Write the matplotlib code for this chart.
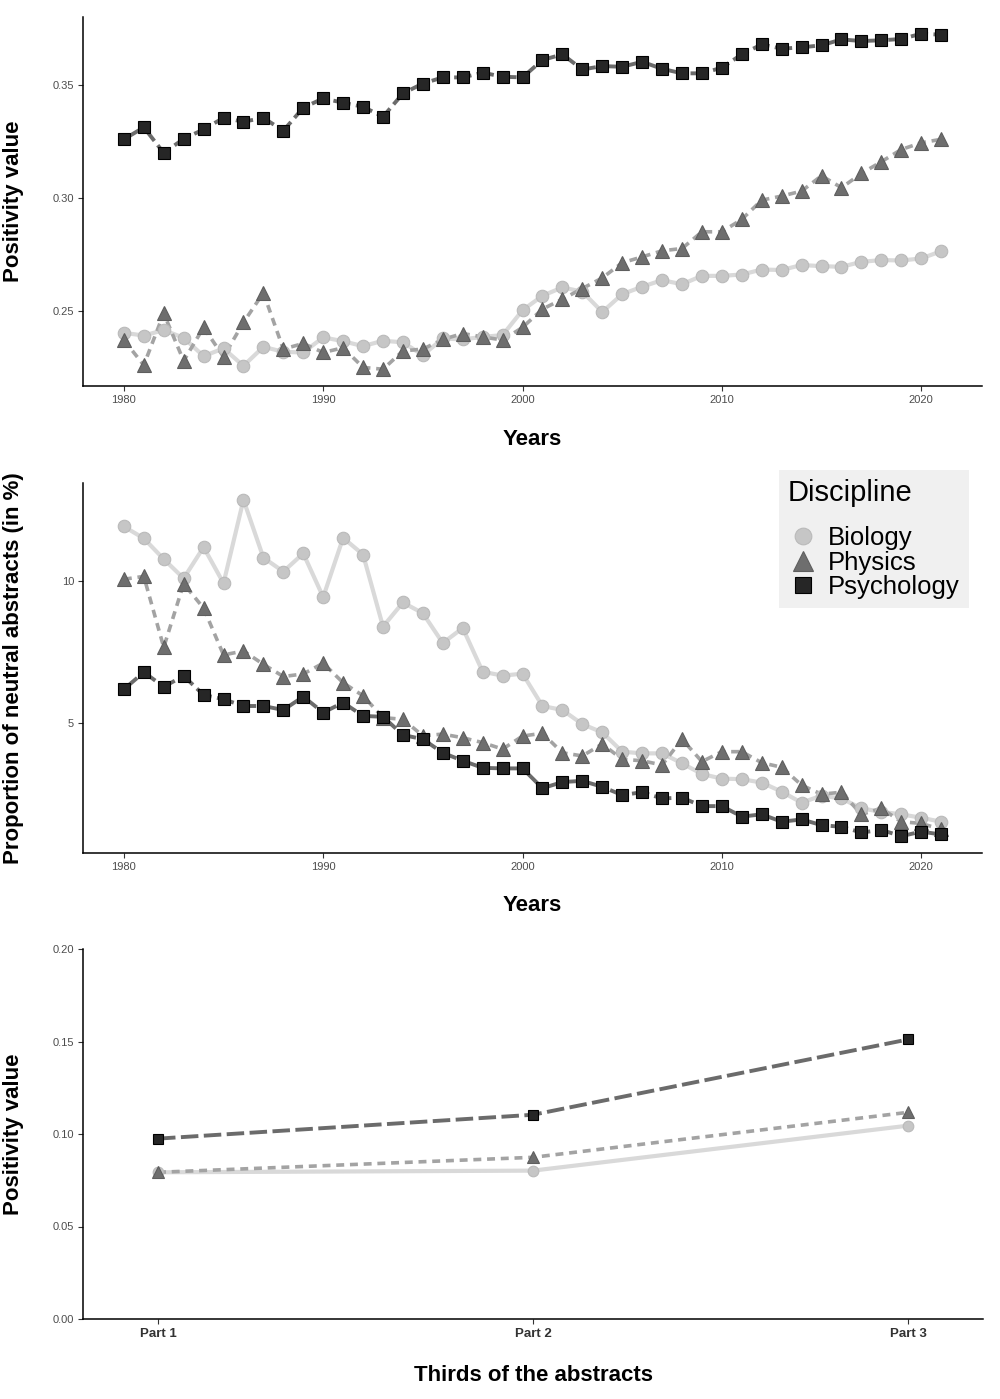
import matplotlib
matplotlib.use("Agg")
import matplotlib.pyplot as plt
from matplotlib.lines import Line2D

plt.rcParams['font.family'] = ['Liberation Sans', 'DejaVu Sans']

# ---- data ----
years = list(range(1980, 2022))

pos_biology = [0.2404, 0.2392, 0.2416, 0.2382, 0.2301, 0.2335, 0.2258, 0.2342, 0.2320, 0.2317,
               0.2384, 0.2367, 0.2345, 0.2369, 0.2362, 0.2305, 0.2379, 0.2375, 0.2386, 0.2394,
               0.2504, 0.2568, 0.2605, 0.2586, 0.2496, 0.2575, 0.2608, 0.2637, 0.2619, 0.2656,
               0.2656, 0.2662, 0.2684, 0.2682, 0.2704, 0.2699, 0.2696, 0.2718, 0.2726, 0.2724,
               0.2733, 0.2765]
pos_physics = [0.2372, 0.2261, 0.2490, 0.2280, 0.2428, 0.2298, 0.2450, 0.2581, 0.2332, 0.2357,
               0.2317, 0.2338, 0.2251, 0.2243, 0.2324, 0.2332, 0.2375, 0.2401, 0.2386, 0.2372,
               0.2428, 0.2509, 0.2553, 0.2600, 0.2647, 0.2714, 0.2740, 0.2767, 0.2777, 0.2851,
               0.2851, 0.2906, 0.2991, 0.3009, 0.3031, 0.3099, 0.3046, 0.3109, 0.3161, 0.3215,
               0.3245, 0.3260]
pos_psychology = [0.3260, 0.3313, 0.3200, 0.3262, 0.3304, 0.3355, 0.3338, 0.3355, 0.3298, 0.3400,
                  0.3441, 0.3422, 0.3404, 0.3360, 0.3463, 0.3507, 0.3534, 0.3534, 0.3555, 0.3537,
                  0.3534, 0.3611, 0.3636, 0.3569, 0.3584, 0.3581, 0.3603, 0.3572, 0.3552, 0.3552,
                  0.3577, 0.3636, 0.3680, 0.3661, 0.3667, 0.3676, 0.3702, 0.3695, 0.3698, 0.3704,
                  0.3727, 0.3723]

neutral_biology = [11.94, 11.52, 10.79, 10.11, 11.21, 9.94, 12.88, 10.84, 10.35, 10.99,
                   9.45, 11.54, 10.95, 8.41, 9.26, 8.88, 7.83, 8.36, 6.82, 6.68,
                   6.75, 5.61, 5.47, 4.97, 4.68, 4.00, 3.94, 3.94, 3.59, 3.21,
                   3.05, 3.03, 2.91, 2.59, 2.20, 2.45, 2.35, 2.00, 1.88, 1.79,
                   1.67, 1.53]
neutral_physics = [10.08, 10.18, 7.68, 9.92, 9.06, 7.41, 7.55, 7.08, 6.65, 6.74,
                   7.12, 6.43, 5.97, 5.20, 5.14, 4.56, 4.62, 4.49, 4.32, 4.09,
                   4.55, 4.65, 3.96, 3.85, 4.27, 3.73, 3.68, 3.53, 4.44, 3.65,
                   4.00, 4.00, 3.61, 3.45, 2.82, 2.50, 2.57, 1.79, 2.00, 1.53,
                   1.47, 1.26]
neutral_psychology = [6.20, 6.80, 6.29, 6.67, 6.00, 5.85, 5.61, 5.61, 5.47, 5.94,
                      5.38, 5.73, 5.26, 5.23, 4.59, 4.44, 3.96, 3.68, 3.43, 3.41,
                      3.41, 2.71, 2.93, 2.97, 2.76, 2.47, 2.57, 2.35, 2.38, 2.08,
                      2.08, 1.71, 1.79, 1.53, 1.61, 1.41, 1.35, 1.15, 1.24, 1.02,
                      1.18, 1.08]

parts = ["Part 1", "Part 2", "Part 3"]
thirds_biology = [0.0793, 0.0802, 0.1045]
thirds_physics = [0.0793, 0.0874, 0.1117]
thirds_psychology = [0.0975, 0.1104, 0.1511]

disciplines = ["Biology", "Physics", "Psychology"]

# ---- styles (ggplot-like greyscale) ----
line_style = {
    "Biology": dict(color="#d9d9d9", lw=3.0, ls="-"),
    "Physics": dict(color="#a3a3a3", lw=2.6, dashes=(2.2, 1.6)),
    "Psychology": dict(color="#6b6b6b", lw=2.8, dashes=(4.5, 1.4)),
}
marker_style = {
    "Biology": dict(marker="o", ms=9, mfc="#c6c6c6", mec="#bababa", mew=0.8),
    "Physics": dict(marker="^", ms=10, mfc="#6e6e6e", mec="#5e5e5e", mew=0.8),
    "Psychology": dict(marker="s", ms=8, mfc="#262626", mec="#000000", mew=0.8),
}


def expanded(series, mult=0.05):
    lo = min(min(s) for s in series)
    hi = max(max(s) for s in series)
    pad = (hi - lo) * mult
    return lo - pad, hi + pad


def style_axes(ax):
    ax.spines["top"].set_visible(False)
    ax.spines["right"].set_visible(False)
    ax.spines["left"].set_linewidth(1.1)
    ax.spines["bottom"].set_linewidth(1.1)
    ax.tick_params(direction="out", length=3.5, width=0.8, color="#333333",
                   labelsize=8, labelcolor="#4d4d4d", pad=3)


def draw_series(ax, x, series_dict, ms_scale=1.0):
    for name in disciplines:
        ax.plot(x, series_dict[name], zorder=2, solid_capstyle="butt",
                dash_capstyle="butt", **line_style[name])
    for name in disciplines:
        ms = dict(marker_style[name])
        ms["ms"] = ms["ms"] * ms_scale
        ax.plot(x, series_dict[name], ls="none", zorder=3, **ms)


fig = plt.figure(figsize=(10, 13.99), dpi=100)
H = 1399.0

# ---- top: positivity by year ----
ax1 = fig.add_axes([0.083, 1 - 386 / H, 0.899, 369 / H])
draw_series(ax1, years, dict(zip(disciplines, [pos_biology, pos_physics, pos_psychology])))
ax1.set_xlim(1980 - 0.05 * 41, 2021 + 0.05 * 41)
ax1.set_ylim(*expanded([pos_biology, pos_physics, pos_psychology]))
ax1.set_xticks([1980, 1990, 2000, 2010, 2020])
ax1.set_yticks([0.25, 0.30, 0.35])
ax1.set_yticklabels(["0.25", "0.30", "0.35"])
style_axes(ax1)
ax1.set_xlabel("Years", fontsize=16, fontweight="bold")
ax1.set_ylabel("Positivity value", fontsize=16, fontweight="bold")
ax1.xaxis.set_label_coords(0.5, -0.116)
ax1.yaxis.set_label_coords(-0.066, 0.5)

# ---- middle: neutral abstracts by year ----
ax2 = fig.add_axes([0.083, 1 - 853 / H, 0.899, 370 / H])
draw_series(ax2, years, dict(zip(disciplines, [neutral_biology, neutral_physics, neutral_psychology])))
ax2.set_xlim(1980 - 0.05 * 41, 2021 + 0.05 * 41)
ax2.set_ylim(*expanded([neutral_biology, neutral_physics, neutral_psychology]))
ax2.set_xticks([1980, 1990, 2000, 2010, 2020])
ax2.set_yticks([5, 10])
style_axes(ax2)
ax2.set_xlabel("Years", fontsize=16, fontweight="bold")
ax2.set_ylabel("Proportion of neutral abstracts (in %)", fontsize=16, fontweight="bold")
ax2.xaxis.set_label_coords(0.5, -0.114)
ax2.yaxis.set_label_coords(-0.066, 0.5)

# ---- bottom: thirds of the abstracts ----
ax3 = fig.add_axes([0.083, 1 - 1319 / H, 0.9, 370 / H])
xpos = [1, 2, 3]
draw_series(ax3, xpos, dict(zip(disciplines, [thirds_biology, thirds_physics, thirds_psychology])),
            ms_scale=0.85)
ax3.set_xlim(0.8, 3.2)
ax3.set_ylim(0, 0.2)
ax3.set_xticks(xpos)
ax3.set_xticklabels(parts)
ax3.set_yticks([0.0, 0.05, 0.10, 0.15, 0.20])
ax3.set_yticklabels(["0.00", "0.05", "0.10", "0.15", "0.20"])
style_axes(ax3)
for lab in ax3.get_xticklabels():
    lab.set_fontweight("bold")
    lab.set_fontsize(9.5)
    lab.set_color("#333333")
ax3.set_xlabel("Thirds of the abstracts", fontsize=16, fontweight="bold")
ax3.set_ylabel("Positivity value", fontsize=16, fontweight="bold")
ax3.xaxis.set_label_coords(0.5, -0.124)
ax3.yaxis.set_label_coords(-0.066, 0.5)

# ---- legend ----
handles = []
legend_sizes = {"Biology": 12, "Physics": 15, "Psychology": 11}
for name in disciplines:
    st = dict(marker_style[name])
    st["ms"] = legend_sizes[name]
    handles.append(Line2D([], [], ls="none", **st))
leg = fig.legend(handles, disciplines, title="Discipline", loc="upper left",
                 bbox_to_anchor=(779 / 1000, 1 - 470 / H), borderaxespad=0,
                 fontsize=18.5, title_fontsize=21, frameon=True, fancybox=False,
                 facecolor="#f0f0f0", edgecolor="none", framealpha=1,
                 labelspacing=0.02, handletextpad=0.37, borderpad=0.35,
                 handlelength=1.2)
leg._legend_box.align = "left"
leg._legend_box.sep = 14

fig.savefig("out.png", dpi=100)
